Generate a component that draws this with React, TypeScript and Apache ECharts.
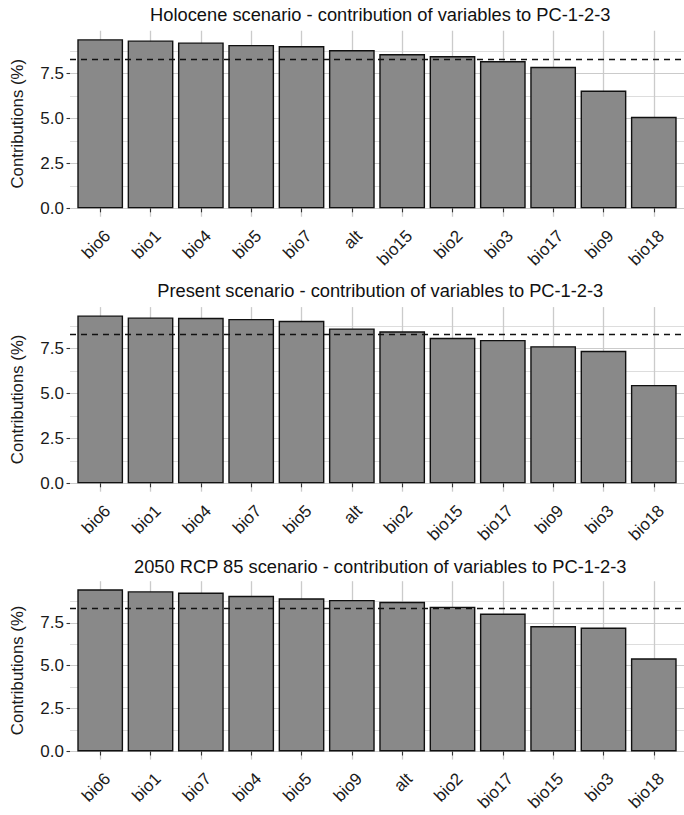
import React, { useEffect, useRef } from "react";
import * as echarts from "echarts";

// ---------- data ----------
const titles = [
  "Holocene scenario - contribution of variables to PC-1-2-3",
  "Present scenario - contribution of variables to PC-1-2-3",
  "2050 RCP 85 scenario - contribution of variables to PC-1-2-3",
];

const categoriesHolocene = ["bio6", "bio1", "bio4", "bio5", "bio7", "alt", "bio15", "bio2", "bio3", "bio17", "bio9", "bio18"];
const valuesHolocene = [9.42, 9.35, 9.24, 9.1, 9.04, 8.82, 8.59, 8.48, 8.2, 7.88, 6.56, 5.1];

const categoriesPresent = ["bio6", "bio1", "bio4", "bio7", "bio5", "alt", "bio2", "bio15", "bio17", "bio9", "bio3", "bio18"];
const valuesPresent = [9.35, 9.24, 9.22, 9.16, 9.05, 8.63, 8.47, 8.11, 7.99, 7.64, 7.38, 5.48];

const categories2050 = ["bio6", "bio1", "bio7", "bio4", "bio5", "bio9", "alt", "bio2", "bio17", "bio15", "bio3", "bio18"];
const values2050 = [9.45, 9.34, 9.26, 9.07, 8.93, 8.83, 8.72, 8.44, 8.04, 7.31, 7.22, 5.43];

const yTicks = [0, 2.5, 5, 7.5];
const yMinorTicks = [1.25, 3.75, 6.25, 8.75];
const referenceLine = 100 / 12;
const yAxisTitle = "Contributions (%)";

// ---------- layout / style ----------
const W = 684;
const H = 815;
const PANEL_LEFT = 70;
const PANEL_RIGHT = 690.5;
const BASELINES = [208.3, 483.3, 759.3];
const TITLE_BASELINES = [20.7, 296.7, 572.4];
const PX_PER_UNIT = 17.95;
const FONT = "'Liberation Sans', Arial, Helvetica, sans-serif";
const TITLE_SIZE = 18.3;
const TICK_SIZE = 17;
const AXIS_TITLE_SIZE = 16.8;

const panels = [
  { cats: categoriesHolocene, vals: valuesHolocene },
  { cats: categoriesPresent, vals: valuesPresent },
  { cats: categories2050, vals: values2050 },
];

function buildOption() {
  const grid: any[] = [];
  const xAxis: any[] = [];
  const yAxis: any[] = [];
  const series: any[] = [];
  const graphic: any[] = [];
  const xMin = 0.4;
  const xMax = 12.6;
  const step = (PANEL_RIGHT - PANEL_LEFT) / (xMax - xMin);

  panels.forEach((p, k) => {
    const maxV = Math.max(...p.vals);
    const yMin = -0.05 * maxV;
    const yMax = 1.05 * maxV;
    const top = BASELINES[k] - yMax * PX_PER_UNIT;
    const height = (yMax - yMin) * PX_PER_UNIT;
    grid.push({ left: PANEL_LEFT, top, width: PANEL_RIGHT - PANEL_LEFT, height, containLabel: false });

    const positions = p.cats.map((_, i) => i + 1);
    // two x axes (odd / even positions) so that no rotated label gets auto-hidden
    [positions.filter((v) => v % 2 === 1), positions.filter((v) => v % 2 === 0)].forEach((xt) => {
      xAxis.push({
        type: "value",
        gridIndex: k,
        position: "bottom",
        min: xMin,
        max: xMax,
        axisLine: { show: false },
        axisTick: { show: true, length: 4, lineStyle: { color: "#333", width: 1.1 }, customValues: xt },
        axisLabel: {
          customValues: xt,
          formatter: (v: number) => "\n" + (p.cats[Math.round(v) - 1] || ""),
          rotate: 45,
          margin: 9,
          lineHeight: 21,
          fontSize: TICK_SIZE,
          fontFamily: FONT,
          color: "#1a1a1a",
        },
        splitLine: { show: true, lineStyle: { color: "#cbcbcb", width: 1.3 } },
      });
    });

    yAxis.push({
      type: "value",
      gridIndex: k,
      position: "left",
      min: yMin,
      max: yMax,
      axisLine: { show: false },
      axisTick: { show: true, length: 3.5, lineStyle: { color: "#333", width: 1.1 }, customValues: yTicks },
      axisLabel: {
        customValues: yTicks,
        formatter: (v: number) => v.toFixed(1),
        margin: 6,
        fontSize: TICK_SIZE,
        fontFamily: FONT,
        color: "#1a1a1a",
      },
      splitLine: { show: true, lineStyle: { color: "#cbcbcb", width: 1.1 } },
      name: yAxisTitle,
      nameLocation: "middle",
      nameGap: 44,
      nameTextStyle: { fontSize: AXIS_TITLE_SIZE, fontFamily: FONT, color: "#1a1a1a" },
    });
    yAxis.push({
      type: "value",
      gridIndex: k,
      position: "left",
      min: yMin,
      max: yMax,
      axisLine: { show: false },
      axisTick: { show: false, customValues: yMinorTicks },
      axisLabel: { show: false, customValues: yMinorTicks },
      splitLine: { show: true, lineStyle: { color: "#d9d9d9", width: 0.9 } },
    });

    series.push({
      type: "bar",
      xAxisIndex: 2 * k,
      yAxisIndex: 2 * k,
      data: p.vals.map((v, i) => [i + 1, v]),
      barWidth: 0.9 * step,
      itemStyle: { color: "#898989", borderColor: "#111111", borderWidth: 1.4 },
      markLine: {
        silent: true,
        symbol: "none",
        label: { show: false },
        lineStyle: { type: [6, 5], color: "#111111", width: 1.3 },
        data: [{ yAxis: referenceLine }],
      },
    });

    graphic.push({
      type: "text",
      x: (PANEL_LEFT + PANEL_RIGHT) / 2,
      y: TITLE_BASELINES[k] - 0.3465 * TITLE_SIZE,
      style: {
        text: titles[k],
        fontSize: TITLE_SIZE,
        fontFamily: FONT,
        fill: "#111111",
        align: "center",
        verticalAlign: "middle",
        textAlign: "center",
        textVerticalAlign: "middle",
      },
    });
  });

  return {
    animation: false,
    backgroundColor: "#ffffff",
    grid,
    xAxis,
    yAxis,
    series,
    graphic,
  };
}

export default function App() {
  const ref = useRef<HTMLDivElement>(null);
  useEffect(() => {
    if (!ref.current) return;
    const chart = echarts.init(ref.current, undefined, { renderer: "svg" });
    chart.setOption(buildOption() as any);
    return () => chart.dispose();
  }, []);
  return (
    <div
      ref={ref}
      style={{ position: "absolute", left: 0, top: 0, width: W, height: H, background: "#fff" }}
    />
  );
}
